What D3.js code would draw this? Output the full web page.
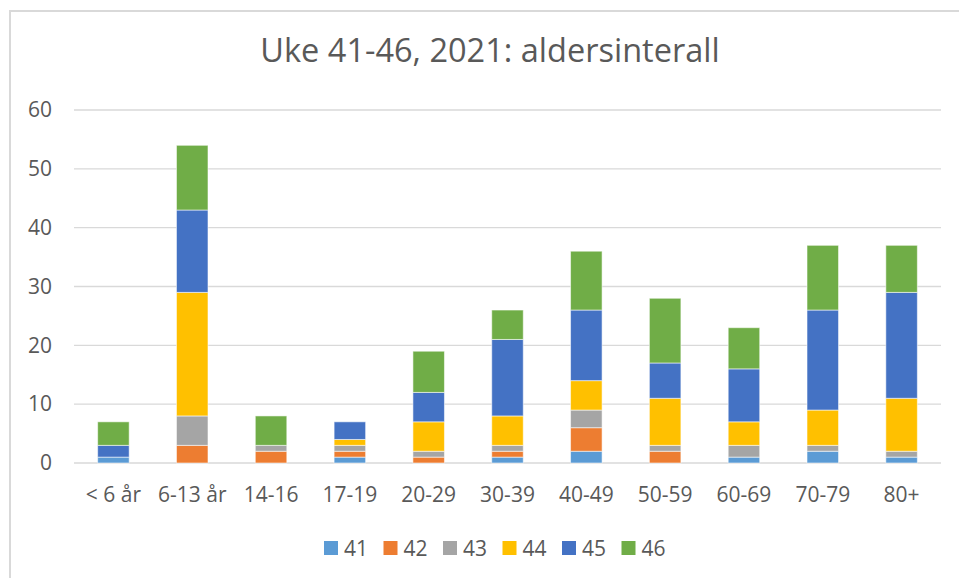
<!DOCTYPE html>
<html>
<head>
<meta charset="utf-8">
<script src="https://cdn.jsdelivr.net/npm/d3@7"></script>
<style>
  html, body { margin: 0; padding: 0; background: #fff; }
  svg { display: block; font-family: "Open Sans", "Liberation Sans", sans-serif; }
</style>
</head>
<body>
<svg id="chart" width="959" height="578"></svg>
<script>
const title = "Uke 41-46, 2021: aldersinterall";
const categories = ["< 6 år", "6-13 år", "14-16", "17-19", "20-29", "30-39", "40-49", "50-59", "60-69", "70-79", "80+"];
const seriesNames = ["41", "42", "43", "44", "45", "46"];
const colors = ["#5B9BD5", "#ED7D31", "#A5A5A5", "#FFC000", "#4472C4", "#70AD47"];
const w41 = [1, 0, 0, 1, 0, 1, 2, 0, 1, 2, 1];
const w42 = [0, 3, 2, 1, 1, 1, 4, 2, 0, 0, 0];
const w43 = [0, 5, 1, 1, 1, 1, 3, 1, 2, 1, 1];
const w44 = [0, 21, 0, 1, 5, 5, 5, 8, 4, 6, 9];
const w45 = [2, 14, 0, 3, 5, 13, 12, 6, 9, 17, 18];
const w46 = [4, 11, 5, 0, 7, 5, 10, 11, 7, 11, 8];
const yTicks = [0, 10, 20, 30, 40, 50, 60];

(function () {
const seriesValues = [w41, w42, w43, w44, w45, w46];
const rows = categories.map((c, i) => {
  const r = { cat: c };
  seriesNames.forEach((s, j) => r[s] = seriesValues[j][i]);
  return r;
});

const svg = d3.select("#chart");
const textColor = "#595959";
const gridColor = "#D9D9D9";
const fontFam = "'Open Sans', sans-serif";

// chart border
svg.append("rect").attr("x", 10).attr("y", 11).attr("width", 960).attr("height", 580)
  .attr("fill", "none").attr("stroke", gridColor).attr("stroke-width", 2);

const pLeft = 74, pRight = 941, pTop = 110, pBottom = 463;
const x = d3.scaleBand().domain(categories).range([pLeft, pRight]).paddingInner(0.6).paddingOuter(0.3);
const y = d3.scaleLinear().domain([0, 60]).range([pBottom, pTop]);

// gridlines
svg.append("g").selectAll("line").data(yTicks).join("line")
  .attr("x1", pLeft).attr("x2", pRight)
  .attr("y1", d => y(d)).attr("y2", d => y(d))
  .attr("stroke", gridColor).attr("stroke-width", 1.3);

// y axis labels
const yAxis = d3.axisLeft(y).tickValues(yTicks).tickSize(0).tickPadding(0);
const gy = svg.append("g").attr("transform", `translate(52,0)`).call(yAxis);
gy.select(".domain").remove();
gy.selectAll("text").attr("fill", textColor).style("font-size", "21px").style("font-family", fontFam);

// stacked bars
const stack = d3.stack().keys(seriesNames)(rows);
svg.append("g").selectAll("g").data(stack).join("g")
  .attr("fill", (d, i) => colors[i])
  .selectAll("rect").data(d => d.filter(s => s[1] - s[0] > 0)).join("rect")
  .attr("x", d => x(d.data.cat))
  .attr("width", x.bandwidth())
  .attr("y", d => y(d[1]))
  .attr("height", d => y(d[0]) - y(d[1]))
  .attr("stroke", "#fff").attr("stroke-opacity", 0.55).attr("stroke-width", 1);

// x axis labels
const xAxis = d3.axisBottom(x).tickSize(0).tickPadding(0);
const gx = svg.append("g").attr("transform", `translate(0,502)`).call(xAxis);
gx.select(".domain").remove();
gx.selectAll("text").attr("y", 0).attr("dy", null)
  .attr("fill", textColor).style("font-size", "21px").style("font-family", fontFam);

// title
svg.append("text").attr("x", 490).attr("y", 62).attr("text-anchor", "middle")
  .attr("fill", textColor).style("font-size", "32.5px").text(title);

// legend
const legend = svg.append("g").selectAll("g").data(seriesNames).join("g")
  .attr("transform", (d, i) => `translate(${324 + i * 59.5},541)`);
legend.append("rect").attr("width", 14).attr("height", 14).attr("fill", (d, i) => colors[i]);
legend.append("text").attr("x", 20).attr("y", 14.5).attr("fill", textColor)
  .style("font-size", "21px").text(d => d);
})();
</script>
</body>
</html>
